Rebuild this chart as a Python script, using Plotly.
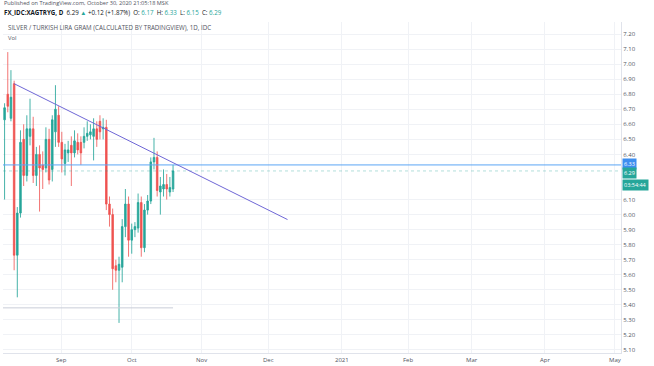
import plotly.graph_objects as go
import pandas as pd

# ---- data ----
dates = list(pd.bdate_range("2020-08-06", "2020-10-20").strftime("%Y-%m-%d"))
opens = [6.63, 6.80, 6.64, 6.87, 5.73, 6.01, 6.50, 6.26, 6.52, 6.57,
         6.26, 6.40, 6.33, 6.31, 6.50, 6.30, 6.55, 6.66, 6.48, 6.34,
         6.41, 6.46, 6.41, 6.48, 6.48, 6.48, 6.52, 6.53, 6.52, 6.57,
         6.62, 6.57, 6.58, 6.07, 6.00, 5.66, 5.63, 5.65, 5.92, 6.07,
         5.83, 5.90, 5.91, 6.08, 5.78, 6.03, 6.09, 6.35, 6.38, 6.15,
         6.17, 6.20, 6.15, 6.17]
highs = [6.74, 7.08, 6.96, 6.89, 6.05, 6.56, 6.60, 6.66, 6.77, 6.65,
         6.45, 6.46, 6.42, 6.58, 6.57, 6.66, 6.86, 6.72, 6.55, 6.47,
         6.49, 6.52, 6.56, 6.54, 6.52, 6.58, 6.62, 6.60, 6.64, 6.62,
         6.66, 6.64, 6.63, 6.12, 6.04, 5.70, 5.72, 5.97, 6.17, 6.12,
         5.94, 5.95, 6.14, 6.12, 6.07, 6.13, 6.38, 6.51, 6.42, 6.25,
         6.30, 6.27, 6.25, 6.33]
lows = [6.10, 6.68, 6.62, 5.63, 5.45, 5.98, 6.19, 6.22, 6.46, 6.21,
        6.19, 6.02, 6.17, 6.28, 6.20, 6.22, 6.45, 6.45, 6.28, 6.26,
        6.35, 6.19, 6.38, 6.40, 6.33, 6.44, 6.49, 6.50, 6.36, 6.45,
        6.50, 6.50, 6.03, 5.92, 5.50, 5.55, 5.28, 5.55, 5.85, 5.72,
        5.74, 5.85, 5.88, 5.72, 5.75, 6.00, 6.07, 6.30, 6.12, 6.00,
        6.12, 6.10, 6.12, 6.15]
closes = [6.71, 6.72, 6.78, 5.73, 6.01, 6.48, 6.26, 6.57, 6.57, 6.26,
          6.40, 6.31, 6.30, 6.50, 6.23, 6.63, 6.70, 6.48, 6.37, 6.43,
          6.43, 6.41, 6.49, 6.43, 6.41, 6.52, 6.54, 6.55, 6.57, 6.50,
          6.55, 6.58, 6.07, 6.00, 5.64, 5.63, 5.67, 5.92, 6.07, 5.83,
          5.90, 5.92, 6.08, 5.78, 6.03, 6.09, 6.35, 6.38, 6.16, 6.19,
          6.20, 6.17, 6.18, 6.29]

month_ticks = ["2020-09-01", "2020-10-01", "2020-11-02", "2020-12-01", "2021-01-01",
               "2021-02-01", "2021-03-01", "2021-04-01", "2021-05-03"]
month_labels = ["Sep", "Oct", "Nov", "Dec", "2021", "Feb", "Mar", "Apr", "May"]

price_ticks = [5.10, 5.20, 5.30, 5.40, 5.50, 5.60, 5.70, 5.80, 5.90, 6.00, 6.10,
               6.40, 6.50, 6.60, 6.70, 6.80, 6.90, 7.00, 7.10, 7.20]

trend_start = ("2020-08-11", 6.87)
trend_end = ("2020-12-09", 5.967)
hline_level = 6.33
last_price = 6.29
support_level = 5.38
support_span = ("2020-08-05", "2020-10-20")

GREEN = "#26a69a"
RED = "#ef5350"

fig = go.Figure()
fig.add_trace(go.Candlestick(
    x=dates, open=opens, high=highs, low=lows, close=closes,
    increasing=dict(line=dict(color="rgba(38,166,154,0.85)", width=1), fillcolor=GREEN),
    decreasing=dict(line=dict(color="rgba(239,83,80,0.8)", width=1), fillcolor=RED),
    whiskerwidth=0, showlegend=False,
))

# drawings
fig.add_shape(type="line", xref="paper", x0=0, x1=1, yref="y",
              y0=last_price, y1=last_price,
              line=dict(color="rgba(38,166,154,0.35)", width=1, dash="dot"))
fig.add_shape(type="line", xref="paper", x0=0, x1=1, yref="y",
              y0=hline_level, y1=hline_level,
              line=dict(color="#5aa5f5", width=1))
fig.add_shape(type="line", xref="x", yref="y",
              x0=trend_start[0], y0=trend_start[1], x1=trend_end[0], y1=trend_end[1],
              line=dict(color="#6f67d6", width=1))
fig.add_shape(type="line", xref="x", yref="y",
              x0=support_span[0], y0=support_level, x1=support_span[1], y1=support_level,
              line=dict(color="#c9ced8", width=1))

font = "Open Sans, Liberation Sans, sans-serif"
ann = []
ann.append(dict(text="Published on TradingView.com, October 30, 2020 21:05:18 MSK",
                xref="paper", yref="paper", x=-0.001, y=1.056, xanchor="left", yanchor="middle",
                showarrow=False, font=dict(size=5.6, color="#50535e", family=font)))
hdr = ("<b>FX_IDC:XAGTRYG, D</b>  6.29 <span style='color:#26a69a'>▲</span> +0.12 (+1.87%)  "
       "O: <span style='color:#26a69a'>6.17</span>  H: <span style='color:#26a69a'>6.33</span>  "
       "L: <span style='color:#26a69a'>6.15</span>  C: <span style='color:#26a69a'>6.29</span>")
ann.append(dict(text=hdr, xref="paper", yref="paper", x=-0.001, y=1.028,
                xanchor="left", yanchor="middle", showarrow=False,
                font=dict(size=6.2, color="#131722", family=font)))
ann.append(dict(text="SILVER / TURKISH LIRA GRAM (CALCULATED BY TRADINGVIEW), 1D, IDC",
                xref="paper", yref="paper", x=0.005, y=0.982, xanchor="left", yanchor="middle",
                showarrow=False, font=dict(size=6.2, color="#50535e", family=font)))
ann.append(dict(text="Vol", xref="paper", yref="paper", x=0.005, y=0.952,
                xanchor="left", yanchor="middle", showarrow=False,
                font=dict(size=5.8, color="#50535e", family=font)))
# time scale labels
for tv, tt in zip(month_ticks, month_labels):
    ann.append(dict(text=tt, xref="x", yref="paper", x=tv, y=0, xanchor="center",
                    yanchor="top", yshift=-1, showarrow=False,
                    font=dict(size=6, color="#50535e", family=font)))
# price scale labels
ann.append(dict(text="6.33", xref="paper", yref="y", x=1.0, y=hline_level, xanchor="left",
                yanchor="middle", showarrow=False, bgcolor="#3d8ef0", borderpad=1,
                font=dict(size=5.5, color="white", family=font), xshift=1, yshift=1))
ann.append(dict(text="6.29", xref="paper", yref="y", x=1.0, y=last_price, xanchor="left",
                yanchor="middle", showarrow=False, bgcolor=GREEN, borderpad=1,
                font=dict(size=5.5, color="white", family=font), xshift=1, yshift=-2))
ann.append(dict(text="03:54:44", xref="paper", yref="y", x=1.0, y=last_price, xanchor="left",
                yanchor="middle", showarrow=False, bgcolor=GREEN, borderpad=1,
                font=dict(size=5.5, color="white", family=font), xshift=1, yshift=-14))

fig.update_layout(
    width=654, height=366,
    margin=dict(l=3, r=33, t=22, b=13),
    paper_bgcolor="white", plot_bgcolor="white",
    annotations=ann,
    xaxis=dict(
        type="date",
        range=["2020-08-05 12:00", "2021-05-04 22:00"],
        rangebreaks=[dict(bounds=["sat", "mon"])],
        rangeslider=dict(visible=False),
        tickvals=month_ticks, showticklabels=False,
        showgrid=True, gridcolor="#f0f2f6", gridwidth=1,
        showline=True, linecolor="#e0e3eb", linewidth=1,
        ticks="", zeroline=False, fixedrange=True,
    ),
    yaxis=dict(
        side="right", range=[5.08, 7.28],
        tickvals=price_ticks, ticktext=[f"{v:.2f}" for v in price_ticks],
        tickfont=dict(size=6, color="#50535e", family=font),
        showgrid=True, gridcolor="#f0f2f6", gridwidth=1,
        showline=True, linecolor="#e0e3eb", linewidth=1,
        ticks="", zeroline=False,
    ),
)

fig.write_html("out.html", config={"displayModeBar": False},
               post_script="document.body.style.margin='0';")
